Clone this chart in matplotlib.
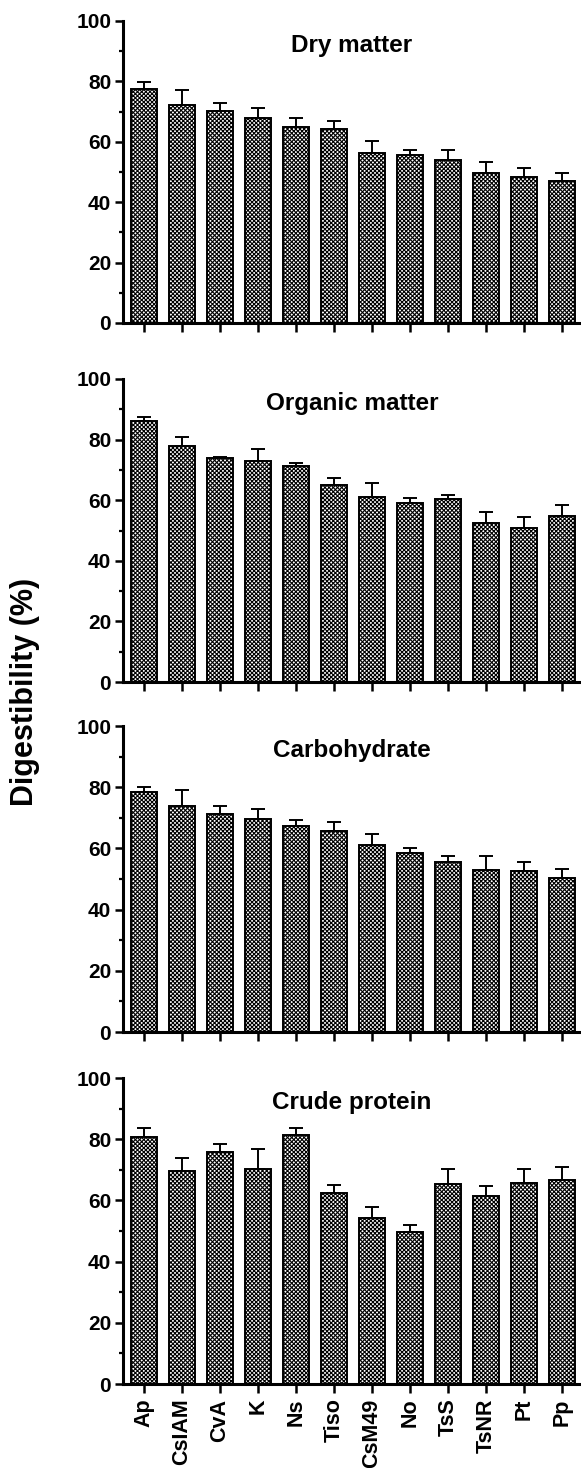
import numpy as np
import matplotlib
matplotlib.use('Agg')
import matplotlib.pyplot as plt
from matplotlib.ticker import MultipleLocator

plt.rcParams['font.family'] = ['Liberation Sans', 'DejaVu Sans']
plt.rcParams['font.weight'] = 'bold'
plt.rcParams['hatch.linewidth'] = 0.8

# species / strains along the x axis
species = ['Ap', 'CsIAM', 'CvA', 'K', 'Ns', 'Tiso', 'CsM49', 'No', 'TsS', 'TsNR', 'Pt', 'Pp']

# digestibility means (%) and upper error (SD) for each panel
dry_matter = [77.4, 72.1, 70.1, 67.9, 64.9, 64.3, 56.2, 55.6, 54.0, 49.8, 48.2, 46.9]
dry_matter_err = [2.4, 5.1, 2.6, 3.3, 2.9, 2.6, 3.9, 1.7, 3.3, 3.5, 3.0, 2.8]

organic_matter = [86.0, 77.9, 73.8, 73.0, 71.2, 65.0, 61.1, 59.1, 60.3, 52.5, 50.8, 54.8]
organic_matter_err = [1.5, 2.9, 0.3, 4.0, 1.2, 2.3, 4.7, 1.6, 1.4, 3.7, 3.8, 3.6]

carbohydrate = [78.4, 73.7, 71.2, 69.7, 67.2, 65.6, 61.0, 58.4, 55.6, 52.8, 52.7, 50.4]
carbohydrate_err = [1.8, 5.4, 2.5, 3.2, 2.1, 3.1, 3.7, 1.8, 1.8, 4.8, 2.7, 2.9]

crude_protein = [80.7, 69.5, 75.9, 70.1, 81.4, 62.4, 54.4, 49.7, 65.5, 61.6, 65.8, 66.6]
crude_protein_err = [2.9, 4.3, 2.5, 6.8, 2.4, 2.5, 3.5, 2.4, 4.6, 3.1, 4.5, 4.4]

titles = ['Dry matter', 'Organic matter', 'Carbohydrate', 'Crude protein']
values = [dry_matter, organic_matter, carbohydrate, crude_protein]
errors = [dry_matter_err, organic_matter_err, carbohydrate_err, crude_protein_err]

W, H = 581, 1468
fig = plt.figure(figsize=(W / 100, H / 100), dpi=100)

# panel extents in pixels (top, bottom)
panels = [(21, 323), (379, 682), (726, 1032), (1078, 1384)]
left_px = 123

x = np.arange(len(species))
for i, (top, bot) in enumerate(panels):
    ax = fig.add_axes([left_px / W, 1 - bot / H, (W - left_px) / W, (bot - top) / H])
    v = np.array(values[i])
    e = np.array(errors[i])
    ax.bar(x, v, width=0.68, color='white', edgecolor='black', linewidth=1.4,
           hatch='xxxxxxxx', zorder=2)
    ax.errorbar(x, v, yerr=[np.zeros_like(e), e], fmt='none', ecolor='black',
                elinewidth=1.4, capsize=4.7, capthick=1.4, zorder=1)
    ax.set_ylim(0, 100)
    ax.set_xlim(-0.55, 11.5)
    ax.yaxis.set_major_locator(MultipleLocator(20))
    ax.yaxis.set_minor_locator(MultipleLocator(10))
    ax.set_xticks(x)
    if i == 3:
        ax.set_xticklabels(species, rotation=90, fontsize=15.5, fontweight='bold')
    else:
        ax.set_xticklabels([])
    for lab in ax.get_yticklabels():
        lab.set_fontsize(15)
        lab.set_fontweight('bold')
    ax.spines['top'].set_visible(False)
    ax.spines['right'].set_visible(False)
    ax.spines['left'].set_linewidth(2.2)
    ax.spines['bottom'].set_linewidth(2.2)
    ax.tick_params(axis='y', which='major', direction='out', length=5.5, width=1.8, pad=3)
    ax.tick_params(axis='x', which='major', direction='out', length=6.5, width=1.8, pad=4)
    ax.tick_params(axis='y', which='minor', direction='out', length=3, width=1.6)
    ax.tick_params(axis='x', which='minor', bottom=False)
    ax.text(0.5, 0.92, titles[i], transform=ax.transAxes, ha='center', va='center',
            fontsize=17.5, fontweight='bold')

fig.text(25 / W, 1 - 692 / H, 'Digestibility (%)', rotation=90, ha='center', va='center',
         fontsize=22, fontweight='bold')

fig.savefig('out.png', dpi=100)
